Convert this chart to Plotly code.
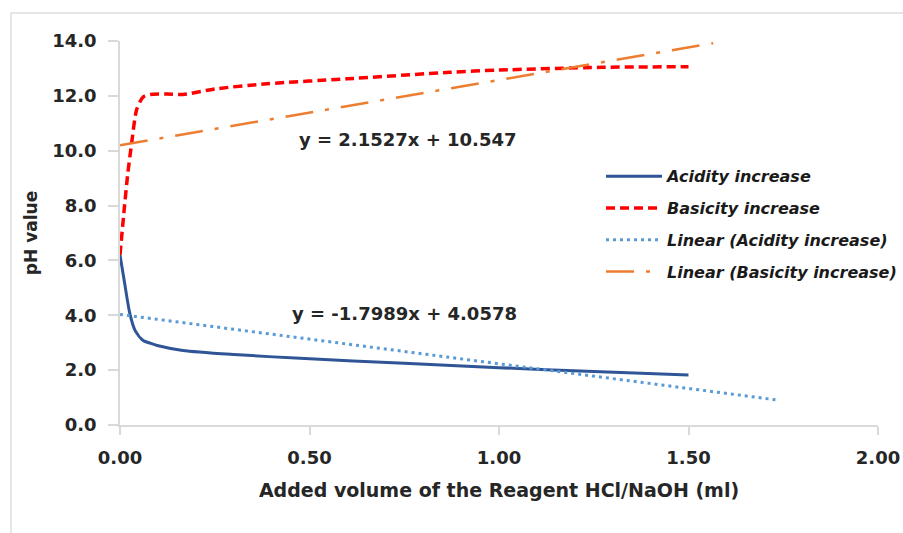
import plotly.graph_objects as go

# ---- data ----
acid_x = [0, 0.013, 0.026, 0.04, 0.061, 0.08, 0.098, 0.166, 0.3, 0.475, 0.75, 1.0, 1.25, 1.5]
acid_y = [6.2, 5.1, 4.06, 3.44, 3.08, 2.98, 2.9, 2.72, 2.57, 2.43, 2.25, 2.09, 1.95, 1.82]

basic_x = [0, 0.01, 0.02, 0.031, 0.044, 0.061, 0.08, 0.124, 0.166, 0.255, 0.387, 0.598, 0.87, 1.0, 1.27, 1.5]
basic_y = [6.2, 7.7, 9.1, 10.3, 11.5, 11.96, 12.05, 12.07, 12.05, 12.26, 12.44, 12.62, 12.86, 12.94, 13.04, 13.06]

trend_acid_x = [0, 1.74]
trend_acid_y = [4.03, 0.9]
trend_basic_x = [0, 1.565]
trend_basic_y = [10.2, 13.92]

eq_acid = "y = -1.7989x + 4.0578"
eq_basic = "y = 2.1527x + 10.547"

x_title = "Added volume of the Reagent HCl/NaOH (ml)"
y_title = "pH value"

FONT = "DejaVu Sans"
GRID = "#d9d9d9"

fig = go.Figure()
fig.add_trace(go.Scatter(x=acid_x, y=acid_y, mode="lines", name="<b><i>Acidity increase</i></b>",
                         line=dict(color="#2f5597", width=3, shape="spline", smoothing=0.7),
                         legendgroup="a"))
fig.add_trace(go.Scatter(x=basic_x, y=basic_y, mode="lines", name="<b><i>Basicity increase</i></b>",
                         line=dict(color="#ff0000", width=3.5, dash="9px,5px", shape="spline", smoothing=0.7),
                         legendgroup="b"))
fig.add_trace(go.Scatter(x=trend_acid_x, y=trend_acid_y, mode="lines",
                         name="<b><i>Linear (Acidity increase)</i></b>",
                         line=dict(color="#5b9bd5", width=3, dash="3px,4px"),
                         legendgroup="c"))
fig.add_trace(go.Scatter(x=trend_basic_x, y=trend_basic_y, mode="lines",
                         name="<b><i>Linear (Basicity increase)</i></b>",
                         line=dict(color="#ed7d31", width=2.5, dash="28px,12px,4px,12px"),
                         legendgroup="d"))

fig.add_annotation(x=0.76, y=10.4, xref="x", yref="y", text="<b>" + eq_basic + "</b>",
                   showarrow=False, font=dict(family=FONT, size=18, color="#262626"))
fig.add_annotation(x=0.75, y=4.06, xref="x", yref="y", text="<b>" + eq_acid + "</b>",
                   showarrow=False, font=dict(family=FONT, size=18, color="#262626"))

# chart frame
fig.add_shape(type="rect", xref="paper", yref="paper",
              x0=(11 - 120) / 758, x1=(912 - 120) / 758,
              y0=(425 - 545) / 384, y1=(425 - 13) / 384,
              line=dict(color="#e6e6e6", width=2), fillcolor="rgba(0,0,0,0)", layer="below")

fig.update_layout(
    width=903, height=533,
    margin=dict(l=120, r=25, t=41, b=108, autoexpand=False),
    paper_bgcolor="white", plot_bgcolor="white",
    font=dict(family=FONT, color="#262626"),
    showlegend=True,
    legend=dict(x=0.6346, y=0.692, xanchor="left", yanchor="top",
                font=dict(family=FONT, size=16, color="#1a1a1a"),
                traceorder="grouped", tracegroupgap=8,
                bgcolor="rgba(0,0,0,0)", itemwidth=56),
    xaxis=dict(range=[0, 2], dtick=0.5, tick0=0, tickformat=".2f",
               showgrid=False, zeroline=False, showline=True, linecolor=GRID, linewidth=1.5,
               ticks="outside", ticklen=8, tickcolor=GRID, tickwidth=1.5,
               tickfont=dict(family=FONT, size=18, color="#262626"),
               ticklabelstandoff=8,
               title=dict(text="<b>" + x_title + "</b>", font=dict(family=FONT, size=19, color="#262626"),
                          standoff=16),
               automargin=False),
    yaxis=dict(range=[0, 14], dtick=2, tick0=0, tickformat=".1f",
               showgrid=False, zeroline=False, showline=True, linecolor=GRID, linewidth=1.5,
               ticks="outside", ticklen=10, tickcolor=GRID, tickwidth=1.5,
               tickfont=dict(family=FONT, size=18, color="#262626"),
               ticklabelstandoff=8,
               title=dict(text="<b>" + y_title + "</b>", font=dict(family=FONT, size=17, color="#262626"),
                          standoff=10),
               automargin=False),
)
fig.for_each_xaxis(lambda a: a.update(tickprefix="<b>", ticksuffix="</b>"))
fig.for_each_yaxis(lambda a: a.update(tickprefix="<b>", ticksuffix="</b>"))

fig.write_html("out.html")
